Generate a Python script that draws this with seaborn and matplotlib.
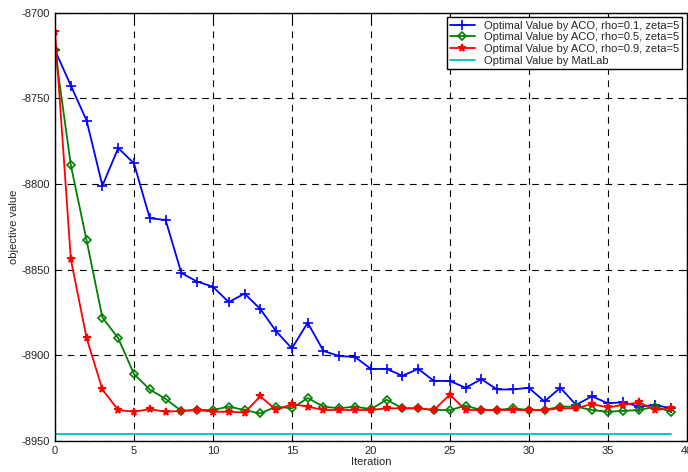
import numpy as np
import pandas as pd
import matplotlib
matplotlib.use("Agg")
import matplotlib.pyplot as plt
import seaborn as sns

iterations = list(range(40))
rho01 = [-8722, -8742.5, -8763, -8801, -8779, -8788, -8820, -8821, -8852, -8857,
         -8860, -8869, -8864, -8873, -8886, -8896, -8881, -8897.5, -8900.5, -8901,
         -8908, -8908, -8912, -8908, -8915, -8915, -8919, -8914, -8920, -8920,
         -8919, -8927, -8919, -8929, -8924, -8928, -8927.5, -8930, -8929, -8931]
rho05 = [-8722, -8789, -8833, -8878, -8890, -8911, -8920, -8925.5, -8932.5, -8932,
         -8932, -8930, -8932, -8934, -8930, -8931, -8925, -8930, -8931, -8930,
         -8931.5, -8926, -8931, -8931, -8932, -8932, -8929.5, -8932, -8932, -8931,
         -8932, -8932, -8930, -8930, -8932, -8933, -8932.5, -8932, -8930, -8933]
rho09 = [-8711, -8844, -8890, -8920, -8932, -8933, -8931.5, -8933, -8932.5, -8932,
         -8933, -8933, -8933.5, -8924, -8932, -8928.5, -8930, -8932, -8932, -8932,
         -8932, -8931, -8931, -8931, -8932, -8923, -8932, -8932, -8932, -8932,
         -8932, -8932, -8931, -8931, -8928.5, -8930.5, -8929, -8927.5, -8932, -8931]
matlab_value = -8946

labels = ["Optimal Value by ACO, rho=0.1, zeta=5",
          "Optimal Value by ACO, rho=0.5, zeta=5",
          "Optimal Value by ACO, rho=0.9, zeta=5",
          "Optimal Value by MatLab"]

df = pd.DataFrame({
    "Iteration": iterations * 4,
    "value": rho01 + rho05 + rho09 + [matlab_value] * len(iterations),
    "series": [l for l in labels for _ in iterations],
})

sns.set_style("white")
plt.rcParams["font.family"] = ["Liberation Sans", "DejaVu Sans"]
plt.rcParams["axes.unicode_minus"] = False
plt.rcParams["xtick.direction"] = "in"
plt.rcParams["ytick.direction"] = "in"

fig = plt.figure(figsize=(6.88, 4.72), dpi=100)
ax = fig.add_axes([0.08, 0.066, 0.918, 0.907])

palette = {labels[0]: "#0000ff", labels[1]: "#008000", labels[2]: "#ff0000", labels[3]: "#00bfbf"}
markers = {labels[0]: "+", labels[1]: "D", labels[2]: "*", labels[3]: ""}
msizes = {"+": 6.5, "D": 4, "*": 5.5}

for lab in labels:
    sub = df[df["series"] == lab]
    m = markers[lab]
    c = palette[lab]
    if m == "":
        kw = {}
    else:
        kw = dict(marker=m, markersize=msizes[m], markeredgewidth=1.2,
                  markeredgecolor=c, markerfacecolor=c)
    if m == "D":
        kw.update(markerfacecolor="none")
    sns.lineplot(data=sub, x="Iteration", y="value", color=c, label=lab,
                 linewidth=1.3, ax=ax, **kw)

ax.set_xlim(0, 40)
ax.set_ylim(-8950, -8700)
ax.set_xticks(range(0, 41, 5))
ax.set_yticks(range(-8950, -8699, 50))
ax.grid(True, color="black", linestyle=(0, (6, 5)), linewidth=0.8)
for s in ax.spines.values():
    s.set_color("black")
    s.set_linewidth(1.0)
ax.tick_params(labelsize=8, length=4, color="black", top=True, right=True)
ax.set_xlabel("Iteration", fontsize=8, labelpad=1)
ax.set_ylabel("objective value", fontsize=8, labelpad=2)

leg = ax.legend(loc="upper right", fontsize=8, frameon=True, fancybox=False,
                framealpha=1, edgecolor="black", borderpad=0.3, labelspacing=0.15,
                handlelength=2.2, borderaxespad=0.4)
leg.get_frame().set_linewidth(1.0)

fig.savefig("out.png", dpi=100)
